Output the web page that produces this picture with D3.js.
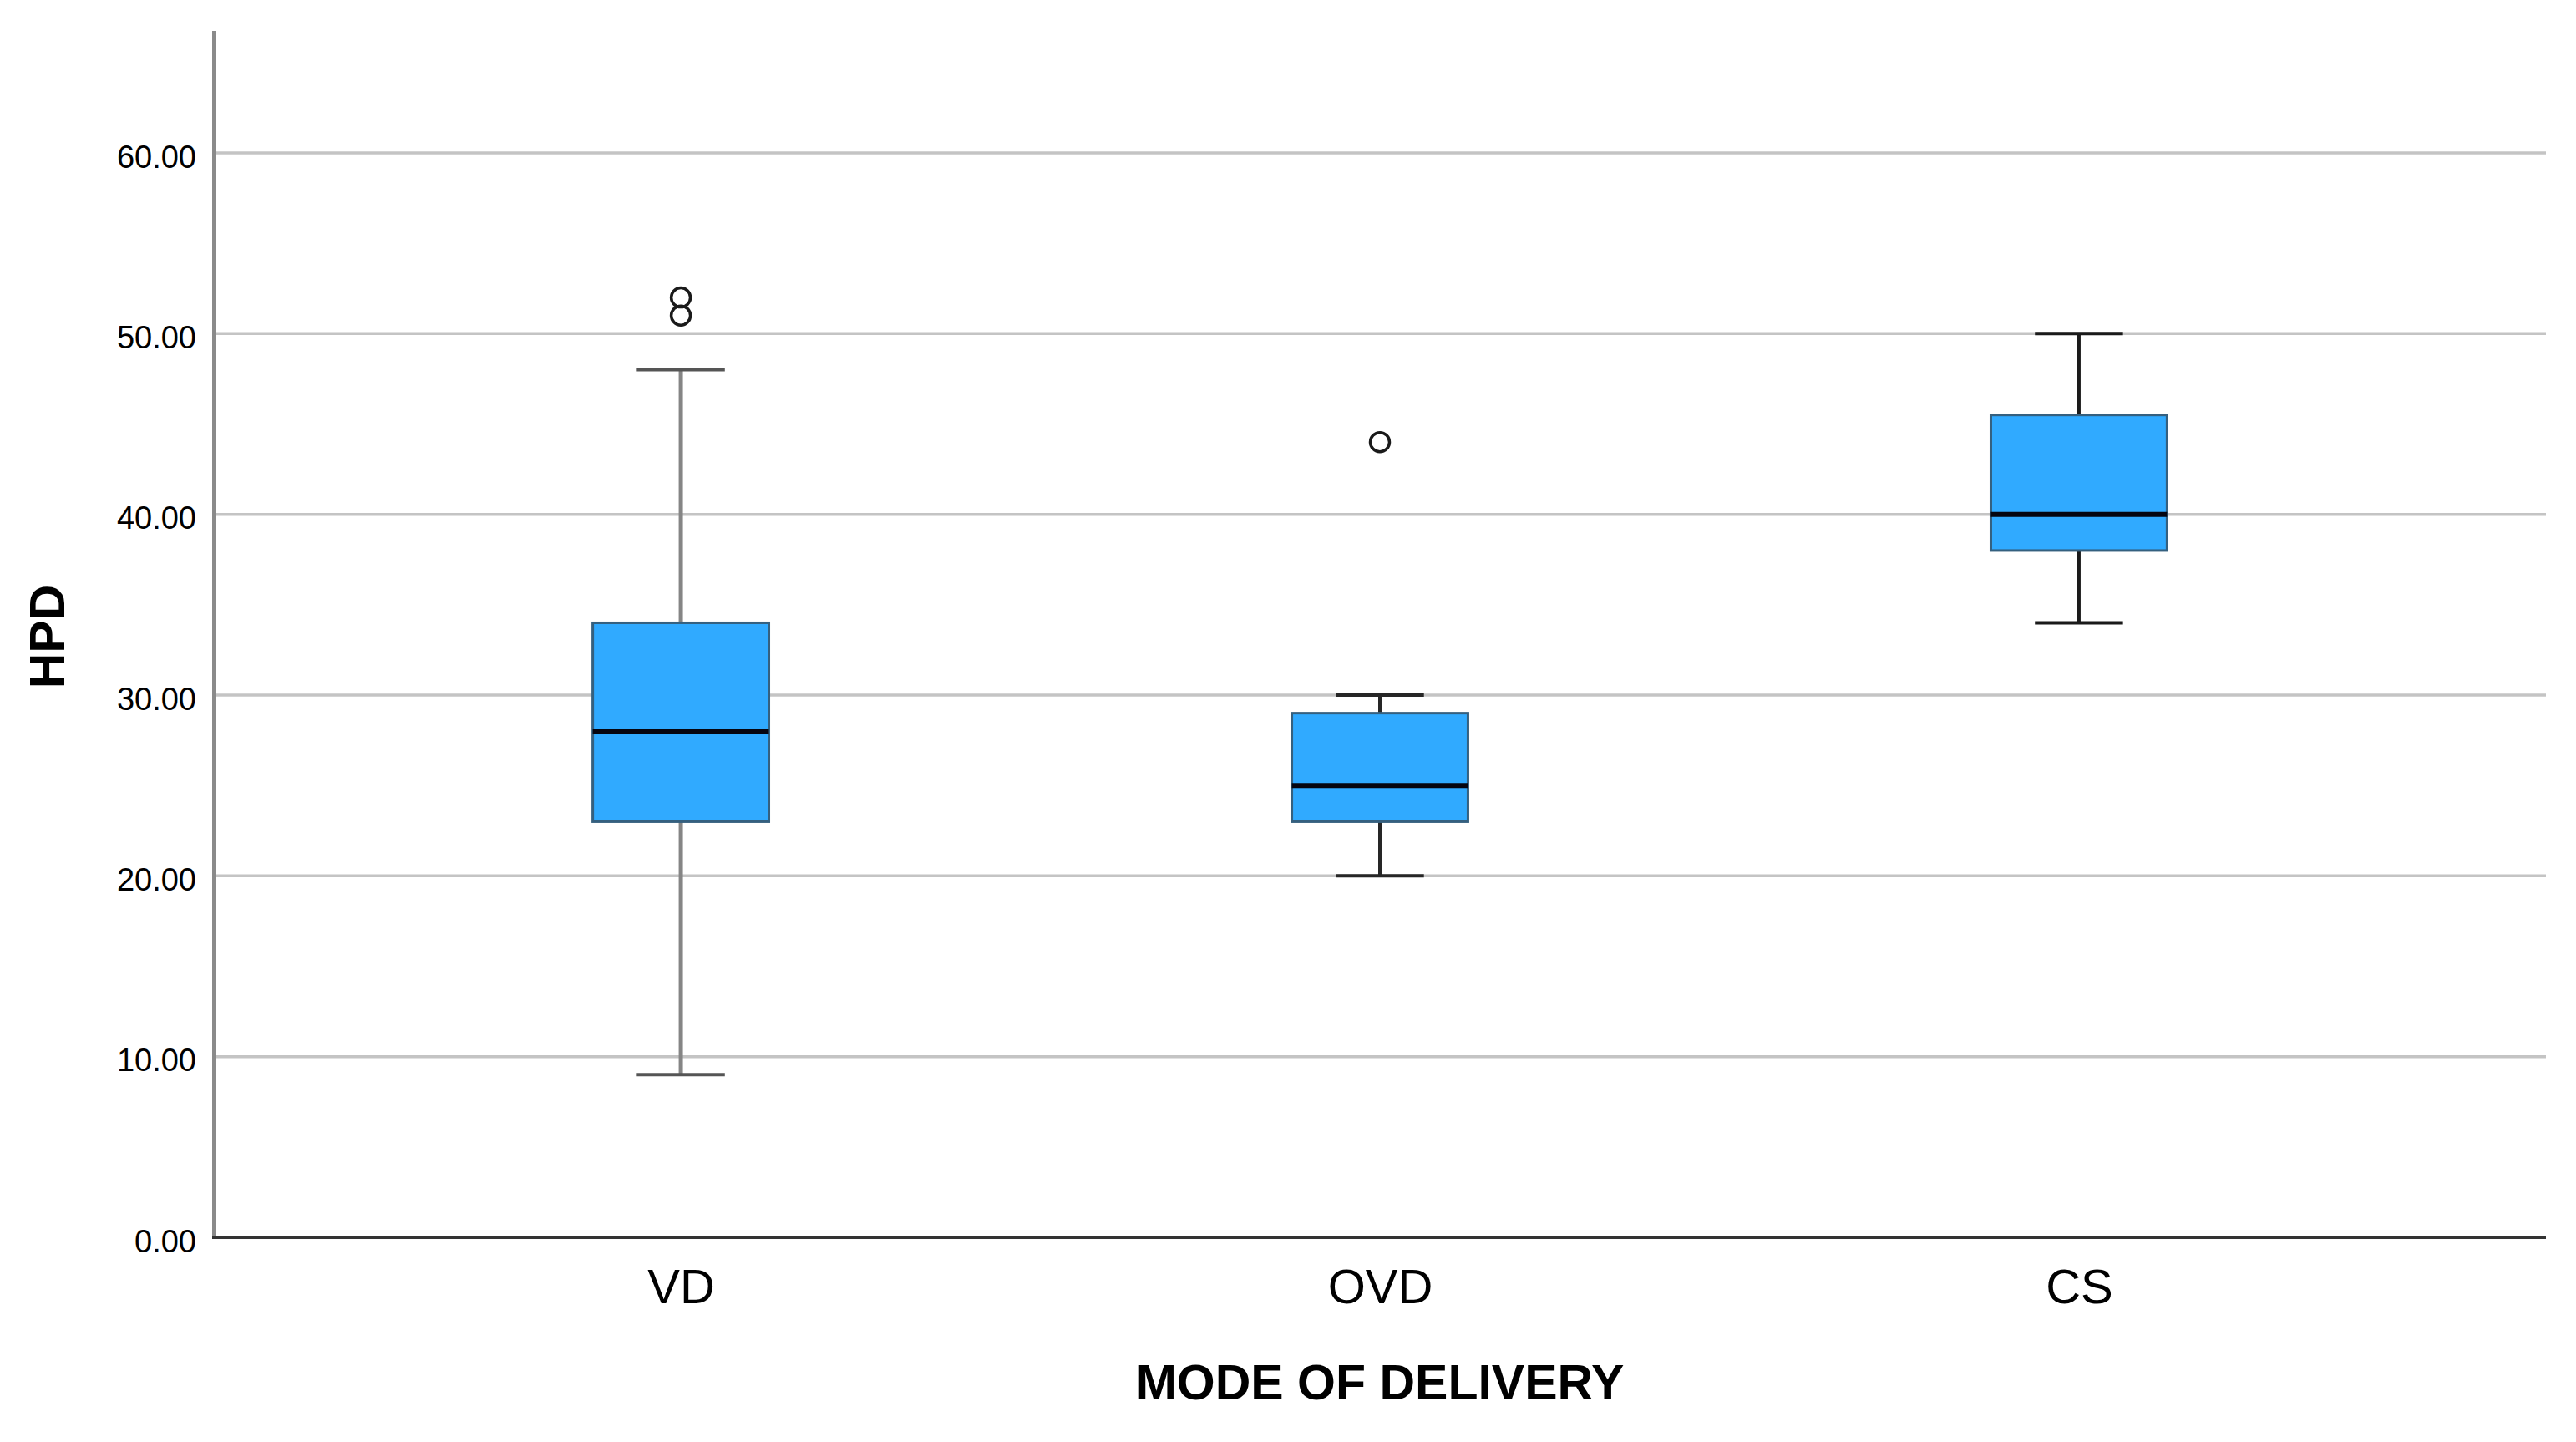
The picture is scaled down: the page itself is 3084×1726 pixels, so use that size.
<!DOCTYPE html>
<html>
<head>
<meta charset="utf-8">
<script src="https://cdn.jsdelivr.net/npm/d3@7"></script>
<style>
  html, body { margin: 0; padding: 0; background: #fff; }
  svg { display: block; }
  text { font-family: Arial, "Liberation Sans", Helvetica, sans-serif; fill: #000; }
</style>
</head>
<body>
<script>
// ---- data ----
const categories   = ["VD", "OVD", "CS"];
const whiskerLow   = [9, 20, 34];
const quartile1    = [23, 23, 38];
const medians      = [28, 25, 40];
const quartile3    = [34, 29, 45.5];
const whiskerHigh  = [48, 30, 50];
const outlierGroup = ["VD", "VD", "OVD"];
const outlierValue = [51, 52, 44];
const yTickValues  = [0, 10, 20, 30, 40, 50, 60];
const xTitle = "MODE OF DELIVERY";
const yTitle = "HPD";

// ---- layout ----
const W = 3084, H = 1726;
const plotLeft = 256, plotRight = 3048, plotBottom = 1481, plotTop = 37;

const svg = d3.select("body").append("svg")
  .attr("width", W).attr("height", H)
  .attr("viewBox", `0 0 ${W} ${H}`);

const y = d3.scaleLinear().domain([0, 60]).range([plotBottom, 183]);
const yTopValue = y.invert(plotTop);
y.domain([0, yTopValue]).range([plotBottom, plotTop]);

const x = d3.scalePoint().domain(categories).range([plotLeft, plotRight]).padding(0.668);
const boxW = x.step() * 0.252;
const capW = boxW * 0.5;

// gridlines
svg.append("g").selectAll("line")
  .data(yTickValues.filter(v => v > 0))
  .join("line")
  .attr("x1", plotLeft).attr("x2", plotRight)
  .attr("y1", d => y(d)).attr("y2", d => y(d))
  .attr("stroke", "#c4c4c4").attr("stroke-width", 3.5);

// y axis (labels via d3.axisLeft)
const yAxis = d3.axisLeft(y).tickValues(yTickValues).tickFormat(d3.format(".2f")).tickSize(0).tickPadding(21);
const gy = svg.append("g").attr("transform", `translate(${plotLeft},0)`).call(yAxis);
gy.select(".domain").remove();
gy.selectAll("text")
  .attr("font-size", 38)
  .attr("font-family", "Arial, 'Liberation Sans', sans-serif")
  .attr("fill", "#000")
  .attr("dy", "0.45em");
svg.append("line")
  .attr("x1", plotLeft).attr("x2", plotLeft)
  .attr("y1", plotTop).attr("y2", plotBottom)
  .attr("stroke", "#8a8a8a").attr("stroke-width", 4);

// x axis
const xAxis = d3.axisBottom(x).tickSize(0).tickPadding(38);
const gx = svg.append("g").attr("transform", `translate(0,${plotBottom})`).call(xAxis);
gx.select(".domain").remove();
gx.selectAll("text")
  .attr("font-size", 58)
  .attr("font-family", "Arial, 'Liberation Sans', sans-serif")
  .attr("fill", "#111")
  .attr("dy", "0.71em");
svg.append("line")
  .attr("x1", plotLeft - 2).attr("x2", plotRight)
  .attr("y1", plotBottom).attr("y2", plotBottom)
  .attr("stroke", "#333").attr("stroke-width", 4);

// boxes
const stemColor = { VD: "#858585", OVD: "#262626", CS: "#1a1a1a" };
const capColor  = { VD: "#555555", OVD: "#262626", CS: "#1a1a1a" };
const stemWidth = { VD: 5, OVD: 4, CS: 4 };

const rows = categories.map((c, i) => ({
  c, lo: whiskerLow[i], q1: quartile1[i], med: medians[i], q3: quartile3[i], hi: whiskerHigh[i]
}));

const g = svg.append("g");
rows.forEach(r => {
  const cx = x(r.c);
  g.append("line").attr("x1", cx).attr("x2", cx).attr("y1", y(r.hi)).attr("y2", y(r.q3))
    .attr("stroke", stemColor[r.c]).attr("stroke-width", stemWidth[r.c]);
  g.append("line").attr("x1", cx).attr("x2", cx).attr("y1", y(r.q1)).attr("y2", y(r.lo))
    .attr("stroke", stemColor[r.c]).attr("stroke-width", stemWidth[r.c]);
  [r.hi, r.lo].forEach(v => {
    g.append("line").attr("x1", cx - capW / 2).attr("x2", cx + capW / 2)
      .attr("y1", y(v)).attr("y2", y(v))
      .attr("stroke", capColor[r.c]).attr("stroke-width", 4);
  });
  g.append("rect")
    .attr("x", cx - boxW / 2).attr("width", boxW)
    .attr("y", y(r.q3)).attr("height", y(r.q1) - y(r.q3))
    .attr("fill", "#30aaff").attr("stroke", "#35607f").attr("stroke-width", 3);
  g.append("line").attr("x1", cx - boxW / 2).attr("x2", cx + boxW / 2)
    .attr("y1", y(r.med)).attr("y2", y(r.med))
    .attr("stroke", "#050510").attr("stroke-width", 6);
});

// outliers
g.selectAll("circle.outlier")
  .data(outlierValue.map((v, i) => ({ c: outlierGroup[i], v })))
  .join("circle")
  .attr("class", "outlier")
  .attr("cx", d => x(d.c))
  .attr("cy", d => y(d.v))
  .attr("r", 11.5)
  .attr("fill", "none")
  .attr("stroke", "#1a1a1a")
  .attr("stroke-width", 3.5);

// titles
svg.append("text")
  .attr("x", x("OVD")).attr("y", 1675)
  .attr("text-anchor", "middle")
  .attr("font-size", 59).attr("font-weight", "bold")
  .text(xTitle);

svg.append("text")
  .attr("transform", `translate(77,762) rotate(-90)`)
  .attr("text-anchor", "middle")
  .attr("font-size", 59).attr("font-weight", "bold")
  .text(yTitle);
</script>
</body>
</html>
